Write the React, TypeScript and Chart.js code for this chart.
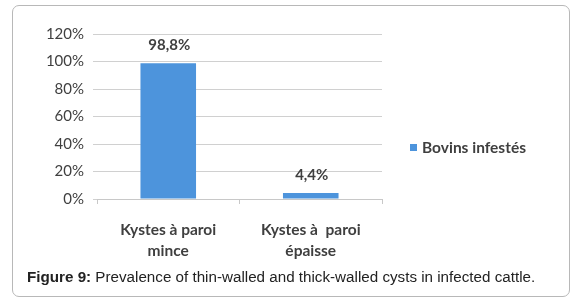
import React, { useEffect, useRef } from "react";
import { Chart, registerables } from "chart.js";

Chart.register(...registerables);

const categories: string[][] = [["Kystes à paroi", "mince"], ["Kystes à  paroi", "épaisse"]];
const values: number[] = [98.8, 4.4];
const valueLabels: string[] = ["98,8%", "4,4%"];
const seriesName = "Bovins infestés";
const yTicks: number[] = [0, 20, 40, 60, 80, 100, 120];

const BLUE = "#4d94dc";
const TXT = "#3f3f3f";

const dataLabelPlugin = {
  id: "dataLabels",
  afterDatasetsDraw(chart: any) {
    const ctx = chart.ctx;
    const meta = chart.getDatasetMeta(0);
    ctx.save();
    ctx.font = "bold 15px Lato";
    ctx.fillStyle = TXT;
    ctx.textAlign = "center";
    ctx.textBaseline = "bottom";
    meta.data.forEach((bar: any, i: number) => {
      ctx.fillText(valueLabels[i], bar.x + 1, bar.y - 10);
    });
    ctx.restore();
  },
};

export default function App() {
  const ref = useRef<HTMLCanvasElement>(null);
  useEffect(() => {
    document.body.style.margin = "0";
    const chart = new Chart(ref.current!, {
      type: "bar",
      data: {
        labels: categories,
        datasets: [
          {
            label: seriesName,
            data: values,
            backgroundColor: BLUE,
            barPercentage: 0.78,
            categoryPercentage: 0.5,
          },
        ],
      },
      options: {
        responsive: false,
        animation: false,
        layout: { padding: { left: 0, right: 195, top: 34, bottom: 0 } },
        plugins: { legend: { display: false }, tooltip: { enabled: false } },
        scales: {
          x: {
            grid: { drawOnChartArea: false, drawTicks: true, tickLength: 5, color: "#c8c8c8" },
            border: { display: true, color: "#c8c8c8" },
            ticks: {
              color: TXT,
              font: { family: "Lato", size: 15.5, weight: "bold", lineHeight: 1.35 },
              padding: 16,
            },
            afterFit(scale: any) {
              scale.height = 71;
            },
          },
          y: {
            min: 0,
            max: 120,
            afterBuildTicks(scale: any) {
              scale.ticks = yTicks.map((v) => ({ value: v }));
            },
            grid: { color: "#d0d0d0", tickLength: 4 },
            border: { display: false },
            ticks: {
              color: TXT,
              font: { family: "Lato", size: 15 },
              padding: 9,
              callback: (v: any) => v + "%",
            },
            afterFit(scale: any) {
              scale.width = 97;
            },
          },
        },
      },
      plugins: [dataLabelPlugin],
    });
    return () => chart.destroy();
  }, []);

  return (
    <div style={{ position: "fixed", left: 0, top: 0, width: 577, height: 304, background: "#fff" }}>
      <div
        style={{
          position: "absolute",
          left: 12,
          top: 5,
          width: 556,
          height: 290,
          border: "1px solid #b8b8b8",
          borderRadius: 7,
        }}
      />
      <canvas ref={ref} width={577} height={270} style={{ position: "absolute", left: 0, top: 0 }} />
      <div
        style={{
          position: "absolute",
          left: 410,
          top: 138,
          display: "flex",
          alignItems: "center",
          fontFamily: "Lato",
          fontWeight: "bold",
          fontSize: 15.5,
          color: TXT,
        }}
      >
        <span style={{ display: "inline-block", width: 7, height: 7, background: BLUE, marginRight: 5 }} />
        {seriesName}
      </div>
      <div
        style={{
          position: "absolute",
          left: 27,
          top: 268,
          fontFamily: "'Liberation Sans', Arial, sans-serif",
          fontSize: 15.2,
          color: "#222",
          whiteSpace: "nowrap",
        }}
      >
        <b>Figure 9:</b> Prevalence of thin-walled and thick-walled cysts in infected cattle.
      </div>
    </div>
  );
}
